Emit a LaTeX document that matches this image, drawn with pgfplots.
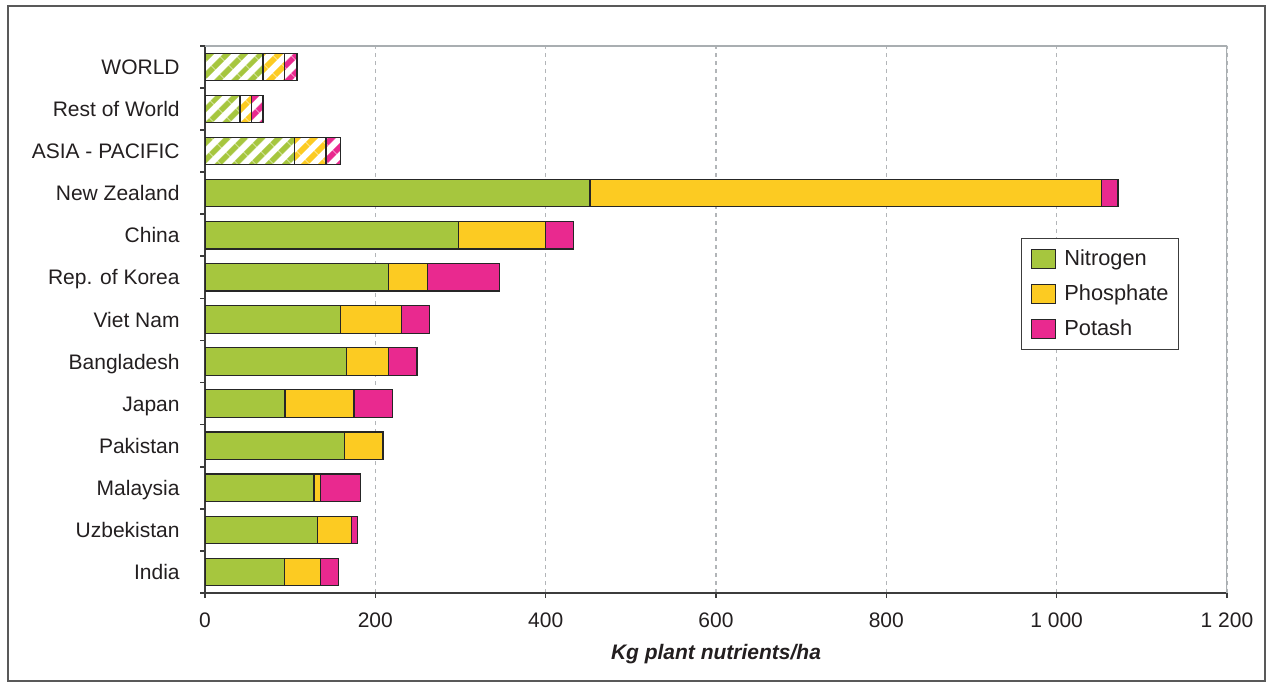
\documentclass[border=0pt]{standalone}
\usepackage{pgfplots}
\pgfplotsset{compat=1.18}
\usepackage{pgfplotstable}
\usetikzlibrary{patterns.meta}
\usepackage{fontspec}
\setmainfont{Liberation Sans}

\definecolor{nitro}{HTML}{A6C63E}
\definecolor{phos}{HTML}{FCCB22}
\definecolor{potash}{HTML}{E9298F}
\definecolor{gridgray}{HTML}{B2B5B8}
\definecolor{framegray}{HTML}{A9AEB1}
\definecolor{axisdark}{HTML}{3C3C3C}
\definecolor{textdark}{HTML}{231F20}

% Kg plant nutrients per ha; rows from the bottom (India) to the top (WORLD).
% N, P, K: single countries; HN, HP, HK: regional aggregates (hatched).
\pgfplotstableread{
row N   P   K   HN  HP  HK
0   93  43  21  0   0   0
1   132 40  7   0   0   0
2   128 8   47  0   0   0
3   164 44  1.5 0   0   0
4   94  81  45  0   0   0
5   166 49  34  0   0   0
6   159 72  33  0   0   0
7   215 46  85  0   0   0
8   298 102 33  0   0   0
9   452 601 19  0   0   0
10  0   0   0   105 37  17
11  0   0   0   41  14  13
12  0   0   0   68  25  15
}\nutrients

\tikzset{hatch/.style={pattern={Lines[angle=45,distance=6.5pt,line width=3.2pt]}}}

\begin{document}
\begin{tikzpicture}[x=1pt,y=1pt]
\useasboundingbox (0,0) rectangle (634,-343.5);
\draw[color=axisdark!85, line width=0.7pt] (4,-3) rectangle (632.5,-340.5);
\begin{axis}[
  at={(102.5pt,-296.5pt)}, anchor=south west,
  scale only axis, width=511pt, height=273.6pt,
  xbar stacked, bar width=13.7pt,
  xmin=0, xmax=1200, ymin=-0.5, ymax=12.5,
  axis x line*=bottom, axis y line*=left,
  axis line style={color=axisdark, line width=0.8pt},
  tick style={color=axisdark, line width=0.8pt},
  tick align=outside, major tick length=2.5pt,
  xtick={0,200,...,1200},
  xticklabels={0,200,400,600,800,1\ 000,1\ 200},
  ytick={-0.5,0.5,...,12.5},
  y tick label as interval,
  yticklabels={India,Uzbekistan,Malaysia,Pakistan,Japan,Bangladesh,Viet Nam,Rep. of Korea,China,New Zealand,ASIA - PACIFIC,Rest of World,WORLD},
  tick label style={font=\fontsize{10.5}{12.6}\selectfont, text=textdark},
  yticklabel style={anchor=east, inner sep=0pt, xshift=-10pt,
    text height=7.6pt, text depth=0pt},
  xticklabel style={anchor=north, inner sep=0pt, yshift=-7pt},
  xmajorgrids,
  major grid style={color=gridgray, dash pattern=on 2pt off 2pt, line width=0.7pt},
  xlabel={Kg plant nutrients/ha},
  xlabel style={at={(axis description cs:0.5,0)}, anchor=center, yshift=-30.5pt,
    font=\fontsize{10.5}{12.6}\selectfont\bfseries\itshape, text=textdark},
  legend style={at={(0.798,0.649)}, anchor=north west, draw=axisdark, line width=0.6pt,
    font=\fontsize{10.9}{13}\selectfont, text=textdark,
    row sep=4.2pt, inner xsep=5pt, inner ysep=3.5pt,
    /tikz/every odd column/.append style={column sep=2pt},
    text width=50pt, cells={anchor=west}},
  legend image code/.code={\draw[#1, line width=0.6pt] (0pt,-4.8pt) rectangle (12pt,4.8pt);},
  every axis plot/.append style={draw=black!85, line width=0.6pt},
]
\addplot[fill=nitro]  table[x=N, y=row] {\nutrients};
\addplot[fill=phos]   table[x=P, y=row] {\nutrients};
\addplot[fill=potash] table[x=K, y=row] {\nutrients};
\addplot[hatch, pattern color=nitro]  table[x=HN, y=row] {\nutrients};
\addplot[hatch, pattern color=phos]   table[x=HP, y=row] {\nutrients};
\addplot[hatch, pattern color=potash] table[x=HK, y=row] {\nutrients};
\legend{Nitrogen,Phosphate,Potash}
\draw[color=framegray, line width=0.7pt] (rel axis cs:0,1) -- (rel axis cs:1,1) -- (rel axis cs:1,0);
\end{axis}
\end{tikzpicture}
\end{document}
